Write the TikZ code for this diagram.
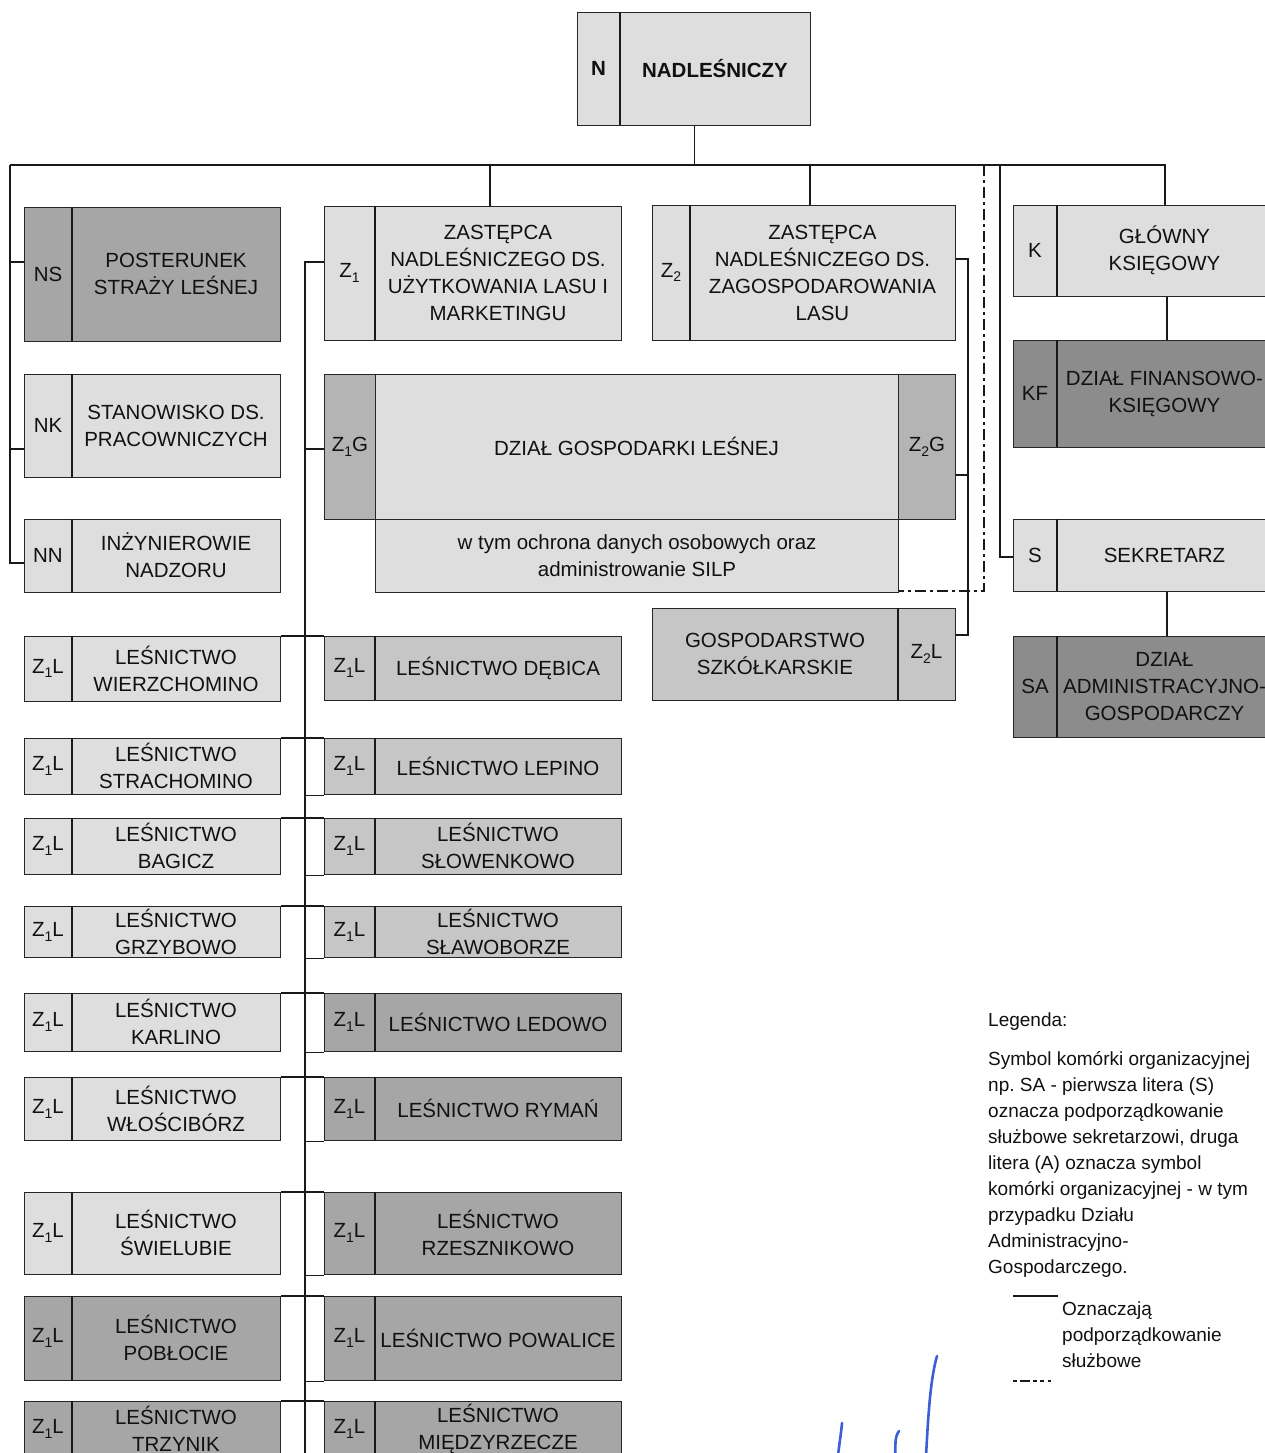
\documentclass[tikz,border=0pt]{standalone}
\usepackage{fontspec}
\setmainfont{Liberation Sans}
\usetikzlibrary{calc}
\frenchspacing
\definecolor{cLight}{HTML}{DEDEDE}
\definecolor{cMed}{HTML}{C6C6C6}
\definecolor{cDark}{HTML}{A6A6A6}
\definecolor{cDarker}{HTML}{8C8C8C}
\definecolor{cCell}{HTML}{B4B4B4}
\definecolor{txt}{HTML}{111111}
\definecolor{sigblue}{HTML}{3D5FD6}
\newcommand\zsub[1]{\raisebox{-0.45ex}{\fontsize{14}{14}\selectfont #1}}
\tikzset{
  ubox/.style={draw=black!85, line width=1.1pt, rectangle, inner sep=0pt},
  conn/.style={draw=black!90, line width=1.1pt},
  dd/.style={conn, dash pattern=on 11pt off 4pt on 3pt off 4pt},
  codet/.style={font=\fontsize{20.5}{27}\selectfont, text=txt, inner sep=0pt},
  labt/.style={font=\fontsize{20.5}{27}\selectfont, text=txt, align=center, inner sep=0pt},
  legt/.style={font=\fontsize{19}{26}\selectfont, text=txt, align=left, inner sep=0pt},
  sig/.style={draw=sigblue, line width=2.6pt, line cap=round},
}
% name, x1, y1, x2, y2, divider x, fill, code, text
\newcommand\orgbox[9]{%
  \pgfmathsetmacro\bw{#4-#2}\pgfmathsetmacro\bh{#5-#3}%
  \node[ubox, fill=#7, minimum width=\bw pt, minimum height=\bh pt, anchor=north west] (#1) at (#2,#3) {};
  \draw[conn] (#6,#3) -- (#6,#5);
  \node[codet] (#1c) at ({(#2+#6)/2},{(#3+#5)/2}) {#8};
  \node[labt] (#1t) at ({(#6+#4)/2},{(#3+#5)/2}) {#9};
}
\begin{document}
\begin{tikzpicture}[x=1pt, y=-1pt]
\useasboundingbox (0,0) rectangle (1265,1453);
\fill[white] (0,0) rectangle (1265,1453);
\clip (0,0) rectangle (1265,1453);

% ---------- junction coordinates ----------
\coordinate (bl) at (10,165);
\coordinate (br) at (1165,165);
\coordinate (s1) at (10,262);
\coordinate (s2) at (10,449);
\coordinate (s3) at (10,563);
\coordinate (j1) at (490,165);
\coordinate (j2) at (810,165);
\coordinate (jd) at (984,165);
\coordinate (jd2) at (984,591);
\coordinate (js) at (1000,165);
\coordinate (js2) at (1000,557);
\coordinate (kx) at (1167,0);
\coordinate (zb1) at (968,259);
\coordinate (zb2) at (968,635);
\coordinate (zb3) at (968,475);
\coordinate (sp1) at (305,262);
\coordinate (sp2) at (305,449);
\coordinate (spb) at (305,1460);

% ---------- boxes ----------
\orgbox{n}{577}{12}{810}{125}{620}{cLight}{\textbf{N}}{\textbf{NADLEŚNICZY}}
\orgbox{ns}{24}{207}{280}{341}{72}{cDark}{NS}{POSTERUNEK\\STRAŻY LEŚNEJ}
\orgbox{nk}{24}{374}{280}{477}{72}{cLight}{NK}{STANOWISKO DS.\\PRACOWNICZYCH}
\orgbox{nn}{24}{519}{280}{592}{72}{cLight}{NN}{INŻYNIEROWIE\\NADZORU}
\orgbox{z1}{324}{206}{621}{340}{375}{cLight}{Z\zsub{1}}{ZASTĘPCA\\NADLEŚNICZEGO DS.\\UŻYTKOWANIA LASU I\\MARKETINGU}
\orgbox{z2}{652}{205}{955}{340}{690}{cLight}{Z\zsub{2}}{ZASTĘPCA\\NADLEŚNICZEGO DS.\\ZAGOSPODAROWANIA\\LASU}
\orgbox{k}{1013}{205}{1272}{296}{1057}{cLight}{K}{GŁÓWNY\\KSIĘGOWY}
\orgbox{kf}{1013}{340}{1272}{447}{1057}{cDarker}{KF}{DZIAŁ FINANSOWO-\\KSIĘGOWY}
\orgbox{s}{1013}{519}{1272}{591}{1057}{cLight}{S}{SEKRETARZ}
\orgbox{sa}{1013}{636}{1272}{737}{1057}{cDarker}{SA}{DZIAŁ\\ADMINISTRACYJNO-\\GOSPODARCZY}

% Dział Gospodarki Leśnej
\node[ubox, fill=cLight, minimum width=631pt, minimum height=145pt, anchor=north west] (dgl) at (324,374) {};
\node[ubox, fill=cCell, minimum width=51pt, minimum height=145pt, anchor=north west] (z1g) at (324,374) {};
\node[ubox, fill=cCell, minimum width=57pt, minimum height=145pt, anchor=north west] (z2g) at (898,374) {};
\node[codet] (z1gt) at (z1g.center) {Z\zsub{1}G};
\node[codet] (z2gt) at (z2g.center) {Z\zsub{2}G};
\node[labt] (dglt) at (636.5,446.5) {DZIAŁ GOSPODARKI LEŚNEJ};
\node[ubox, fill=cLight, minimum width=523pt, minimum height=73pt, anchor=north west] (wtym) at (375,519) {};
\node[labt] (wtymt) at (wtym.center) {w tym ochrona danych osobowych oraz\\administrowanie SILP};

% Gospodarstwo szkółkarskie
\node[ubox, fill=cMed, minimum width=303pt, minimum height=92pt, anchor=north west] (gosp) at (652,608) {};
\draw[conn] (898,608) -- (898,700);
\node[labt] (gospt) at (775,654) {GOSPODARSTWO\\SZKÓŁKARSKIE};
\node[codet] (gospc) at (926.5,654) {Z\zsub{2}L};

% Leśnictwa - left column
\orgbox{L1}{24}{636}{280}{701}{72}{cLight}{Z\zsub{1}L}{LEŚNICTWO\\WIERZCHOMINO}
\orgbox{L2}{24}{738}{280}{794}{72}{cLight}{Z\zsub{1}L}{LEŚNICTWO\\STRACHOMINO}
\orgbox{L3}{24}{818}{280}{874}{72}{cLight}{Z\zsub{1}L}{LEŚNICTWO\\BAGICZ}
\orgbox{L4}{24}{906}{280}{957}{72}{cLight}{Z\zsub{1}L}{LEŚNICTWO\\GRZYBOWO}
\orgbox{L5}{24}{993}{280}{1051}{72}{cLight}{Z\zsub{1}L}{LEŚNICTWO\\KARLINO}
\orgbox{L6}{24}{1077}{280}{1140}{72}{cLight}{Z\zsub{1}L}{LEŚNICTWO\\WŁOŚCIBÓRZ}
\orgbox{L7}{24}{1192}{280}{1274}{72}{cLight}{Z\zsub{1}L}{LEŚNICTWO\\ŚWIELUBIE}
\orgbox{L8}{24}{1296}{280}{1380}{72}{cDark}{Z\zsub{1}L}{LEŚNICTWO\\POBŁOCIE}
\orgbox{L9}{24}{1401}{280}{1456}{72}{cDark}{Z\zsub{1}L}{LEŚNICTWO\\TRZYNIK}

% Leśnictwa - right column
\orgbox{R1}{324}{636}{621}{700}{375}{cMed}{Z\zsub{1}L}{LEŚNICTWO DĘBICA}
\orgbox{R2}{324}{738}{621}{794}{375}{cMed}{Z\zsub{1}L}{LEŚNICTWO LEPINO}
\orgbox{R3}{324}{818}{621}{874}{375}{cMed}{Z\zsub{1}L}{LEŚNICTWO\\SŁOWENKOWO}
\orgbox{R4}{324}{906}{621}{957}{375}{cMed}{Z\zsub{1}L}{LEŚNICTWO\\SŁAWOBORZE}
\orgbox{R5}{324}{993}{621}{1051}{375}{cDark}{Z\zsub{1}L}{LEŚNICTWO LEDOWO}
\orgbox{R6}{324}{1077}{621}{1140}{375}{cDark}{Z\zsub{1}L}{LEŚNICTWO RYMAŃ}
\orgbox{R7}{324}{1192}{621}{1274}{375}{cDark}{Z\zsub{1}L}{LEŚNICTWO\\RZESZNIKOWO}
\orgbox{R8}{324}{1296}{621}{1380}{375}{cDark}{Z\zsub{1}L}{LEŚNICTWO POWALICE}
\orgbox{R9}{324}{1401}{621}{1456}{375}{cDark}{Z\zsub{1}L}{LEŚNICTWO\\MIĘDZYRZECZE}

% ---------- connector lines ----------
\draw[conn] (n.south) -- (n.south |- bl);
\draw[conn] (bl) -- (br) -- (br |- k.north);
\draw[conn] (bl) -- (s3) -- (s3 -| nn.west);
\draw[conn] (s1) -- (s1 -| ns.west);
\draw[conn] (s2) -- (s2 -| nk.west);
\draw[conn] (j1) -- (j1 |- z1.north);
\draw[conn] (j2) -- (j2 |- z2.north);
\draw[dd] (jd) -- (jd2) -- (jd2 -| wtym.east);
\draw[conn] (js) -- (js2) -- (js2 -| s.west);
\draw[conn] (kx |- k.south) -- (kx |- kf.north);
\draw[conn] (kx |- s.south) -- (kx |- sa.north);
\draw[conn] (zb1 -| z2.east) -- (zb1) -- (zb2) -- (zb2 -| gosp.east);
\draw[conn] (zb3) -- (zb3 -| dgl.east);
\draw[conn] (sp1 -| z1.west) -- (sp1) -- (spb);
\draw[conn] (sp2) -- (sp2 -| dgl.west);
\foreach \i in {1,...,9} {\draw[conn] (L\i.north east) -- (R\i.north west);}
\foreach \i in {2,...,8} {\draw[conn] (sp1 |- R\i.south west) -- (R\i.south west);}

% ---------- legend ----------
\node[legt, anchor=west] (leg) at (988,1022) {Legenda:};
\node[legt, anchor=north west] (legp) at (988,1051) {Symbol komórki organizacyjnej\\np. SA - pierwsza litera (S)\\oznacza podporządkowanie\\służbowe sekretarzowi, druga\\litera (A) oznacza symbol\\komórki organizacyjnej - w tym\\przypadku Działu\\Administracyjno-\\Gospodarczego.};
\coordinate (lk1) at (1013,1296);
\coordinate (lk2) at (1013,1381);
\draw[conn] (lk1) -- ++(45,0);
\draw[dd, dash pattern=on 4pt off 3pt on 10pt off 3pt on 4pt off 3pt on 4pt] (lk2) -- ++(45,0);
\node[legt, anchor=north west] (legk) at (1062,1302) {Oznaczają\\podporządkowanie\\służbowe};

% ---------- signature ----------
\draw[sig] (842,1423) .. controls (841,1435) and (839,1445) .. (838,1456);
\draw[sig] (899,1431) .. controls (894,1438) and (896,1446) .. (895,1456);
\draw[sig] (937,1356) .. controls (930,1380) and (928,1420) .. (926,1456);
\end{tikzpicture}
\end{document}
